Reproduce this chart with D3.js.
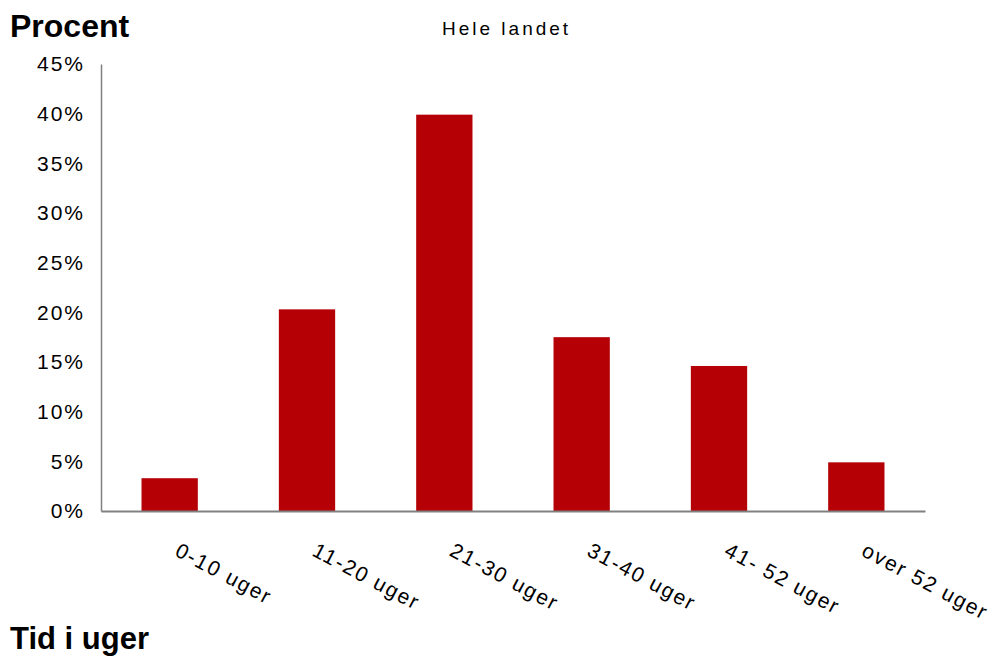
<!DOCTYPE html>
<html>
<head>
<meta charset="utf-8">
<script src="https://cdn.jsdelivr.net/npm/d3@7"></script>
<style>
  html, body { margin: 0; padding: 0; background: #fff; }
  svg { display: block; }
  text { font-family: "Liberation Sans", Arial, sans-serif; fill: #000; }
</style>
</head>
<body>
<svg id="chart" width="992" height="657"></svg>
<script>
// Andel fordelt efter tid i uger, hele landet
const categories = ["0-10 uger", "11-20 uger", "21-30 uger", "31-40 uger", "41- 52 uger", "over 52 uger"];
const values = [3.3, 20.3, 39.9, 17.5, 14.6, 4.9];
const yTicks = [0, 5, 10, 15, 20, 25, 30, 35, 40, 45];

const svg = d3.select("#chart");
const margin = { left: 101, right: 67, top: 64, bottom: 146 };
const W = 992, H = 657;

const x = d3.scaleBand()
  .domain(categories)
  .range([margin.left, W - margin.right])
  .paddingInner(0.59)
  .paddingOuter(0.295);

const y = d3.scaleLinear()
  .domain([0, 45])
  .range([H - margin.bottom, margin.top]);

// bars
svg.append("g").selectAll("rect")
  .data(values)
  .join("rect")
  .attr("x", (d, i) => x(categories[i]))
  .attr("width", x.bandwidth())
  .attr("y", d => y(d))
  .attr("height", d => y(0) - y(d))
  .attr("fill", "#b50005");

// y axis
const yAxis = svg.append("g")
  .attr("transform", `translate(${margin.left},0)`)
  .call(d3.axisLeft(y).tickValues(yTicks).tickSize(0).tickPadding(16).tickFormat(d => d + "%"));
yAxis.select(".domain").attr("stroke", "#808080").attr("stroke-width", 1.5);
yAxis.selectAll("text")
  .attr("font-size", 21)
  .attr("letter-spacing", 2)
  .attr("font-family", "Liberation Sans, Arial, sans-serif")
  .attr("fill", "#000");

// x axis
const xAxis = svg.append("g")
  .attr("transform", `translate(0,${y(0)})`)
  .call(d3.axisBottom(x).tickSize(0).tickPadding(0));
xAxis.select(".domain").attr("stroke", "#808080").attr("stroke-width", 2);
xAxis.selectAll(".tick text")
  .attr("font-size", 21)
  .attr("letter-spacing", 1.8)
  .attr("font-family", "Liberation Sans, Arial, sans-serif")
  .attr("fill", "#000")
  .attr("text-anchor", "start")
  .attr("dy", 0)
  .attr("transform", "translate(4,44) rotate(28)");

// titles
svg.append("text")
  .attr("x", 10).attr("y", 37)
  .attr("font-size", 32).attr("font-weight", "bold")
  .text("Procent");

svg.append("text")
  .attr("x", 442).attr("y", 35)
  .attr("font-size", 19).attr("letter-spacing", 3)
  .text("Hele landet");

svg.append("text")
  .attr("x", 10).attr("y", 649)
  .attr("font-size", 31).attr("font-weight", "bold")
  .text("Tid i uger");
</script>
</body>
</html>
